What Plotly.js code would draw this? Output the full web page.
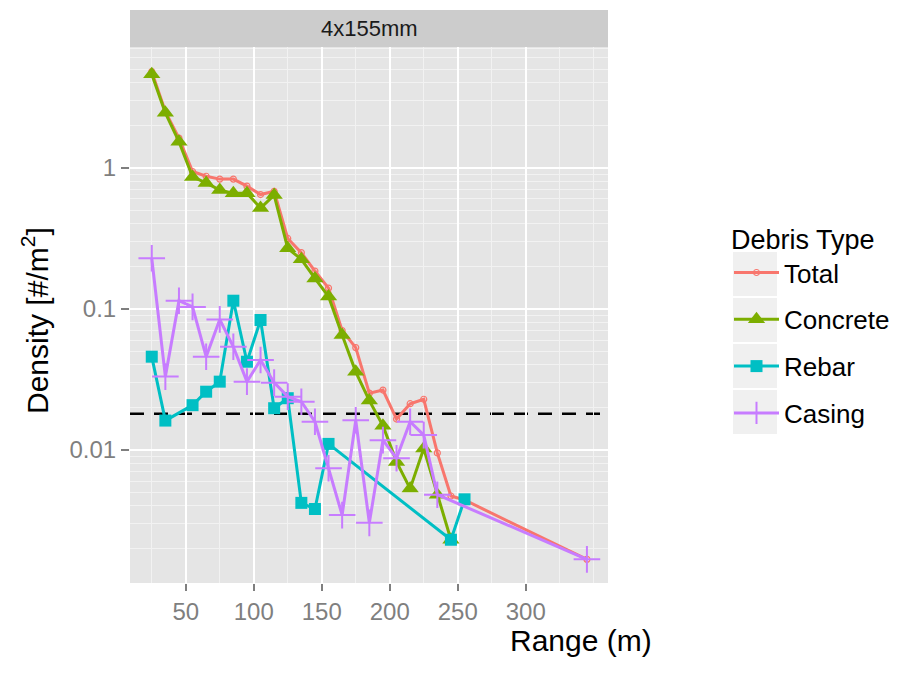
<!DOCTYPE html>
<html>
<head>
<meta charset="utf-8">
<script src="https://cdn.plot.ly/plotly-3.0.1.min.js"></script>
<style>html,body{margin:0;padding:0;background:#fff;}#chart{width:902px;height:673px;}</style>
</head>
<body>
<div id="chart"></div>
<script>
// ---- data ----
const seriesNames = ["Total", "Concrete", "Rebar", "Casing"];

const totalX = [25,35,45,55,65,75,85,95,105,115,125,135,145,155,165,175,185,195,205,215,225,235,245,255,345];
const totalY = [4.8,2.5,1.62,0.94,0.87,0.83,0.83,0.74,0.645,0.68,0.315,0.25,0.185,0.14,0.07,0.053,0.0252,0.0265,0.0165,0.0212,0.0228,0.0095,0.0047,0.0044,0.00167];

const concreteX = [25,35,45,55,65,75,85,95,105,115,125,135,145,155,165,175,185,195,205,215,225,235,245];
const concreteY = [4.6,2.45,1.53,0.86,0.78,0.695,0.658,0.66,0.518,0.64,0.268,0.224,0.164,0.122,0.065,0.0357,0.0223,0.0148,0.0082,0.0053,0.0102,0.0048,0.0023];

const rebarX = [25,35,55,65,75,85,95,105,115,125,135,145,155,245,255];
const rebarY = [0.0457,0.0161,0.0207,0.0258,0.0304,0.114,0.0421,0.0832,0.0197,0.0232,0.0042,0.0038,0.011,0.0023,0.00445];

const casingX = [25,35,45,55,65,75,85,95,105,115,125,135,145,155,165,175,185,195,205,215,225,235,345];
const casingY = [0.228,0.033,0.114,0.103,0.0457,0.084,0.0537,0.0304,0.0433,0.0299,0.0238,0.0219,0.0158,0.0074,0.00344,0.0162,0.00303,0.0117,0.0087,0.0158,0.0127,0.0048,0.00167];

const thresholdY = 0.018;

const xTickVals = [50,100,150,200,250,300];
const xTickText = ["50","100","150","200","250","300"];
const yTickVals = [0.01,0.1,1];
const yTickText = ["0.01","0.1","1"];

const facetLabel = "4x155mm";
const legendTitle = "Debris Type";
const xTitle = "Range (m)";
const yTitle = "Density [#/m<sup>2</sup>]";

// ---- styles ----
const colors = ["#F8766D", "#7CAE00", "#00BFC4", "#C77CFF"];
const FONT = "Liberation Sans, Arial, Helvetica, sans-serif";

const traces = [
  {x: totalX, y: totalY, name: seriesNames[0], mode: "lines+markers",
   line: {color: colors[0], width: 3},
   marker: {symbol: "circle-open", size: 6, color: colors[0], line: {width: 1.2, color: colors[0]}}},
  {x: concreteX, y: concreteY, name: seriesNames[1], mode: "lines+markers",
   line: {color: colors[1], width: 3},
   marker: {symbol: "triangle-up", size: 15, color: colors[1]}},
  {x: rebarX, y: rebarY, name: seriesNames[2], mode: "lines+markers",
   line: {color: colors[2], width: 3},
   marker: {symbol: "square", size: 12, color: colors[2]}},
  {x: casingX, y: casingY, name: seriesNames[3], mode: "lines+markers",
   line: {color: colors[3], width: 3},
   marker: {symbol: "cross-thin-open", size: 19, color: colors[3], line: {width: 2, color: colors[3]}}}
].map((t, i) => Object.assign(t, {type: "scatter", legendgroup: "g" + i, hoverinfo: "x+y+name"}));

const plotW = 478, plotH = 536;
const px2paperX = p => (p - 130) / plotW;
const px2paperY = p => (583 - p) / plotH;

// legend key backgrounds
const keyTops = [252, 298, 344, 390];
const keyShapes = keyTops.map(t => ({
  type: "rect", xref: "paper", yref: "paper", layer: "below",
  x0: px2paperX(733), x1: px2paperX(777), y0: px2paperY(t + 44), y1: px2paperY(t),
  fillcolor: "#F0F0F0", line: {width: 0}
}));

const layout = {
  width: 902, height: 673,
  margin: {l: 130, r: 294, t: 47, b: 90, pad: 0, autoexpand: false},
  paper_bgcolor: "#FFFFFF",
  plot_bgcolor: "#E5E5E5",
  font: {family: FONT, color: "#000000"},
  showlegend: true,
  legend: {
    x: px2paperX(729), xanchor: "left",
    y: px2paperY(214), yanchor: "top",
    bgcolor: "rgba(0,0,0,0)",
    font: {family: FONT, size: 26, color: "#000"},
    title: {text: legendTitle, font: {family: FONT, size: 27, color: "#000"}},
    tracegroupgap: 10,
    itemwidth: 45
  },
  xaxis: {
    type: "linear", range: [9, 360.5],
    tickmode: "array", tickvals: xTickVals, ticktext: xTickText,
    ticks: "outside", ticklen: 7, tickwidth: 2, tickcolor: "#7F7F7F",
    tickfont: {family: FONT, size: 24, color: "#7F7F7F"},
    showgrid: true, gridcolor: "#FFFFFF", gridwidth: 2,
    minor: {tickmode: "linear", tick0: 0, dtick: 25, showgrid: true, gridcolor: "#F2F2F2", gridwidth: 1, ticks: ""},
    zeroline: false, showline: false, fixedrange: true
  },
  yaxis: {
    type: "log", range: [-2.945, 0.856],
    tickmode: "array", tickvals: yTickVals, ticktext: yTickText,
    ticks: "outside", ticklen: 8, tickwidth: 2, tickcolor: "#7F7F7F",
    tickfont: {family: FONT, size: 24, color: "#7F7F7F"},
    showgrid: true, gridcolor: "#FFFFFF", gridwidth: 2,
    minor: {dtick: "D1", showgrid: true, gridcolor: "#F2F2F2", gridwidth: 1, ticks: ""},
    zeroline: false, showline: false, fixedrange: true
  },
  shapes: [
    {type: "rect", xref: "paper", yref: "paper", x0: 0, x1: 1, y0: 1, y1: 1 + 37 / plotH,
     fillcolor: "#CCCCCC", line: {width: 0}, layer: "below"},
    {type: "line", xref: "paper", yref: "y", x0: 0, x1: 1, y0: thresholdY, y1: thresholdY,
     line: {color: "#000000", width: 2.5, dash: "14px,10px"}, layer: "between"}
  ].concat(keyShapes),
  annotations: [
    {text: facetLabel, xref: "paper", yref: "paper", x: 0.5, y: 1 + 18.5 / plotH,
     xanchor: "center", yanchor: "middle", showarrow: false,
     font: {family: FONT, size: 22, color: "#1A1A1A"}},
    {text: yTitle, xref: "paper", yref: "paper", x: px2paperX(35), y: px2paperY(321),
     xanchor: "center", yanchor: "middle", textangle: -90, showarrow: false,
     font: {family: FONT, size: 30, color: "#000"}},
    {text: xTitle, xref: "paper", yref: "paper", x: px2paperX(581), y: px2paperY(640),
     xanchor: "center", yanchor: "middle", showarrow: false,
     font: {family: FONT, size: 30, color: "#000"}}
  ]
};

Plotly.newPlot("chart", traces, layout, {displayModeBar: false, staticPlot: true});
</script>
</body>
</html>
